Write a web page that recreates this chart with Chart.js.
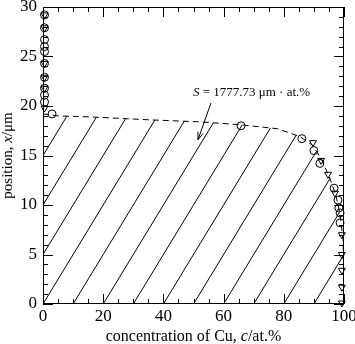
<!DOCTYPE html>
<html>
<head>
<meta charset="utf-8">
<script src="https://cdn.jsdelivr.net/npm/chart.js@4.4.1/dist/chart.umd.min.js"></script>
<style>
html, body { margin: 0; padding: 0; background: #fff; }
#wrap { width: 355px; height: 344px; }
</style>
</head>
<body>
<div id="wrap"><canvas id="profil"></canvas></div>
<script>
// perfil de concentracion de Cu
var xTicks = [0, 20, 40, 60, 80, 100];
var yTicks = [0, 5, 10, 15, 20, 25, 30];

// curva discontinua (c, x)
var curvaC = [0, 5, 15.6, 35.5, 52, 65.8, 78, 85.4, 89.7, 92.7, 95.3, 97.3, 98.7, 99.7, 100];
var curvaX = [19.2, 19.0, 18.9, 18.6, 18.4, 18.1, 17.7, 16.9, 16.0, 14.5, 12.7, 11.0, 9.0, 6.5, 0];

// circulos
var circC = [0.5, 0.5, 0.5, 0.5, 0.5, 0.5, 0.5, 0.5, 0.5, 0.5, 3, 65.8, 86, 90, 92, 96.7, 98, 98.3, 98.7, 98.7];
var circX = [29.2, 27.9, 26.7, 26.0, 25.5, 24.3, 22.9, 21.8, 21.1, 20.4, 19.2, 18.0, 16.7, 15.5, 14.2, 11.7, 10.5, 9.7, 9.2, 8.2];

// triangulos
var triC = [0.5, 0.5, 0.5, 0.5, 0.5, 0.5, 89.7, 92.4, 94.7, 97, 99.3, 99.3, 99.3, 99.3, 99.3];
var triX = [29.2, 27.9, 24.3, 22.9, 21.8, 19.8, 16.3, 14.5, 13.1, 11.2, 7.0, 5.0, 3.4, 1.7, 0.1];

// rayado: inicios de las lineas sobre el eje c
var rayaInicio = [-30, -20, -10, 0, 10, 20, 30, 40, 50, 60, 70, 80, 90];

var pares = function (a, b) {
    return a.map(function (v, i) { return { x: v, y: b[i] }; });
};

// punto donde la raya y = 0.5 (c - c0) corta la curva
var corte = function (c0) {
    for (var i = 0; i < curvaC.length - 1; i++) {
        var fp = curvaX[i] - 0.5 * (curvaC[i] - c0);
        var fq = curvaX[i + 1] - 0.5 * (curvaC[i + 1] - c0);
        if (fp * fq <= 0 && fp !== fq) {
            var t = fp / (fp - fq);
            return { x: curvaC[i] + t * (curvaC[i + 1] - curvaC[i]), y: curvaX[i] + t * (curvaX[i + 1] - curvaX[i]) };
        }
    }
    return null;
};

var datasets = [
    {
        data: pares(circC, circX),
        pointStyle: 'circle',
        pointRadius: 4,
        borderColor: '#000',
        backgroundColor: 'rgba(0,0,0,0)',
        borderWidth: 1,
        showLine: false,
        clip: false
    },
    {
        data: pares(triC, triX),
        pointStyle: 'triangle',
        rotation: 180,
        pointRadius: 4,
        borderColor: '#000',
        backgroundColor: 'rgba(0,0,0,0)',
        borderWidth: 1,
        showLine: false,
        clip: false
    },
    {
        data: pares(curvaC, curvaX),
        showLine: true,
        borderColor: '#000',
        borderWidth: 1,
        borderDash: [6, 4],
        pointRadius: 0,
        tension: 0
    }
];

rayaInicio.forEach(function (c0) {
    var ini = c0 < 0 ? { x: 0, y: -0.5 * c0 } : { x: c0, y: 0 };
    var fin = corte(c0);
    if (!fin) return;
    datasets.push({
        data: [ini, fin],
        showLine: true,
        borderColor: '#000',
        borderWidth: 1,
        pointRadius: 0
    });
});

var FUENTE = '"Liberation Serif", "DejaVu Serif", serif';

// texto con partes en cursiva
var textoMixto = function (ctx, partes, x, y, size, align) {
    var total = 0;
    partes.forEach(function (p) {
        ctx.font = (p[1] ? 'italic ' : '') + size + 'px ' + FUENTE;
        total += ctx.measureText(p[0]).width;
    });
    var px = align === 'center' ? x - total / 2 : x;
    ctx.textAlign = 'left';
    ctx.textBaseline = 'alphabetic';
    partes.forEach(function (p) {
        ctx.font = (p[1] ? 'italic ' : '') + size + 'px ' + FUENTE;
        ctx.fillText(p[0], px, y);
        px += ctx.measureText(p[0]).width;
    });
};

var marco = {
    id: 'marco',
    afterDraw: function (chart) {
        var ctx = chart.ctx;
        var a = chart.chartArea;
        var sx = chart.scales.x, sy = chart.scales.y;
        ctx.save();
        ctx.strokeStyle = '#000';
        ctx.lineWidth = 1;
        ctx.strokeRect(a.left + 0.5, a.top + 0.5, a.right - a.left - 1, a.bottom - a.top - 1);

        ctx.beginPath();
        for (var v = 0; v <= 100; v += 5) {
            var px = Math.round(sx.getPixelForValue(v)) + 0.5;
            var l = v % 20 === 0 ? 10 : 5;
            ctx.moveTo(px, a.bottom); ctx.lineTo(px, a.bottom - l);
            ctx.moveTo(px, a.top); ctx.lineTo(px, a.top + l);
        }
        for (var w = 0; w <= 30; w += 1) {
            var py = Math.round(sy.getPixelForValue(w)) + 0.5;
            var m = w % 5 === 0 ? 10 : 5;
            ctx.moveTo(a.left, py); ctx.lineTo(a.left + m, py);
            ctx.moveTo(a.right, py); ctx.lineTo(a.right - m, py);
        }
        ctx.stroke();

        // titulos de ejes
        ctx.fillStyle = '#000';
        textoMixto(ctx, [['concentration of Cu, ', false], ['c', true], ['/at.%', false]],
            (a.left + a.right) / 2, 341, 16, 'center');
        ctx.save();
        ctx.translate(12, (a.top + a.bottom) / 2);
        ctx.rotate(-Math.PI / 2);
        textoMixto(ctx, [['position, ', false], ['x', true], ['/\u03bcm', false]], 0, 0, 15, 'center');
        ctx.restore();

        // anotacion del area
        textoMixto(ctx, [['S', true], [' = 1777.73 \u03bcm \u00b7 at.%', false]],
            sx.getPixelForValue(49.8), sy.getPixelForValue(21.0), 13, 'left');

        // flecha
        var x1 = sx.getPixelForValue(55.8), y1 = sy.getPixelForValue(20.3);
        var x2 = sx.getPixelForValue(51.5), y2 = sy.getPixelForValue(16.6);
        var ang = Math.atan2(y2 - y1, x2 - x1);
        ctx.beginPath();
        ctx.moveTo(x1, y1); ctx.lineTo(x2, y2);
        ctx.moveTo(x2 - 8 * Math.cos(ang - 0.35), y2 - 8 * Math.sin(ang - 0.35));
        ctx.lineTo(x2, y2);
        ctx.lineTo(x2 - 8 * Math.cos(ang + 0.35), y2 - 8 * Math.sin(ang + 0.35));
        ctx.stroke();
        ctx.restore();
    }
};

new Chart(document.getElementById('profil'), {
    type: 'scatter',
    data: { datasets: datasets },
    options: {
        responsive: true,
        maintainAspectRatio: false,
        devicePixelRatio: 1,
        animation: false,
        layout: { padding: { top: 7, right: 11, left: 0, bottom: 0 } },
        plugins: { legend: { display: false }, tooltip: { enabled: false } },
        scales: {
            x: {
                type: 'linear', min: 0, max: 100,
                afterBuildTicks: function (s) { s.ticks = xTicks.map(function (v) { return { value: v }; }); },
                afterFit: function (s) { s.height = 40; s.paddingLeft = 0; s.paddingRight = 0; },
                grid: { display: false, drawTicks: false },
                border: { display: false },
                ticks: { color: '#000', padding: 2, font: { family: FUENTE, size: 17 }, maxRotation: 0 }
            },
            y: {
                type: 'linear', min: 0, max: 30,
                afterBuildTicks: function (s) { s.ticks = yTicks.map(function (v) { return { value: v }; }); },
                afterFit: function (s) { s.width = 43; s.paddingTop = 0; s.paddingBottom = 0; },
                grid: { display: false, drawTicks: false },
                border: { display: false },
                ticks: { color: '#000', padding: 6, font: { family: FUENTE, size: 17 } }
            }
        }
    },
    plugins: [marco]
});
</script>
</body>
</html>
